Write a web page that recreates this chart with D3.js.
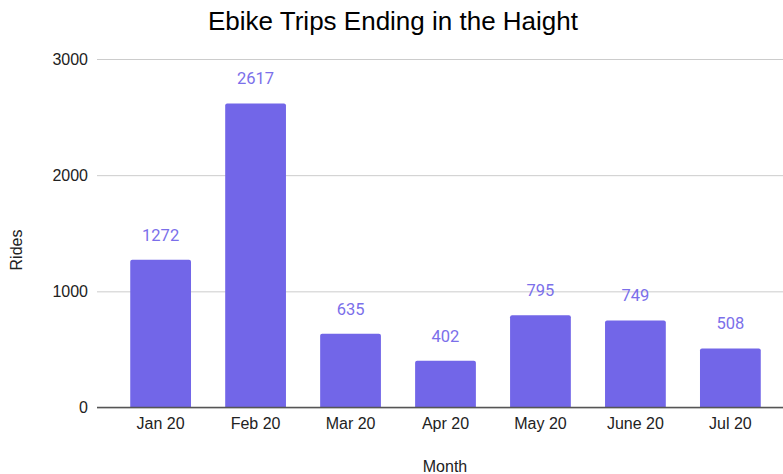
<!DOCTYPE html>
<html>
<head>
<meta charset="utf-8">
<script src="https://cdn.jsdelivr.net/npm/d3@7"></script>
<style>
  body { margin: 0; background: #fff; }
  text { font-family: "Liberation Sans", Arial, sans-serif; }
</style>
</head>
<body>
<div id="chart"></div>
<script>
// data
var months = ["Jan 20", "Feb 20", "Mar 20", "Apr 20", "May 20", "June 20", "Jul 20"];
var rides = [1272, 2617, 635, 402, 795, 749, 508];
var yTicks = [0, 1000, 2000, 3000];

var W = 783, H = 474;
var plotL = 97, plotR = 783, plotT = 59, plotB = 407.5;

var svg = d3.select("#chart").append("svg")
    .attr("width", W)
    .attr("height", H);

var x = d3.scaleBand()
    .domain(months)
    .range([plotL, 794])
    .paddingInner(0.36)
    .paddingOuter(0.35);

var y = d3.scaleLinear()
    .domain([0, 3000])
    .range([plotB, plotT]);

// title
svg.append("text")
    .attr("x", 393)
    .attr("y", 30)
    .attr("text-anchor", "middle")
    .attr("font-size", 26)
    .attr("fill", "#000")
    .text("Ebike Trips Ending in the Haight");

// gridlines + y labels
var yAxis = d3.axisLeft(y)
    .tickValues(yTicks)
    .tickSize(-(plotR - plotL))
    .tickPadding(9)
    .tickFormat(d3.format("d"));

var gy = svg.append("g")
    .attr("transform", "translate(" + plotL + ",0)")
    .call(yAxis);
gy.select(".domain").remove();
gy.selectAll(".tick line")
    .attr("stroke", "#cccccc")
    .attr("stroke-width", 1);
gy.selectAll(".tick text")
    .attr("font-size", 16)
    .attr("fill", "#222")
    .style("font-family", "'Liberation Sans', Arial, sans-serif");

// bars
svg.selectAll("path.bar")
    .data(rides)
    .enter()
    .append("path")
    .attr("class", "bar")
    .attr("fill", "#7266e8")
    .attr("d", function (d, i) {
        var x0 = x(months[i]), w = x.bandwidth();
        var y0 = y(d), r = 2;
        return "M" + x0 + "," + plotB +
            "V" + (y0 + r) +
            "Q" + x0 + "," + y0 + " " + (x0 + r) + "," + y0 +
            "H" + (x0 + w - r) +
            "Q" + (x0 + w) + "," + y0 + " " + (x0 + w) + "," + (y0 + r) +
            "V" + plotB + "Z";
    });

// value labels
svg.selectAll("text.val")
    .data(rides)
    .enter()
    .append("text")
    .attr("class", "val")
    .attr("x", function (d, i) { return x(months[i]) + x.bandwidth() / 2; })
    .attr("y", function (d) { return y(d) - 19; })
    .attr("text-anchor", "middle")
    .attr("font-size", 16.5)
    .attr("fill", "#7b6fea")
    .style("font-family", "Roboto, sans-serif")
    .text(function (d) { return d; });

// x axis
var xAxis = d3.axisBottom(x).tickSize(0).tickPadding(10);
var gx = svg.append("g")
    .attr("transform", "translate(0," + plotB + ")")
    .call(xAxis);
gx.select(".domain")
    .attr("d", "M" + plotL + ",0H" + plotR)
    .attr("stroke", "#555")
    .attr("stroke-width", 1.5);
gx.selectAll(".tick text")
    .attr("font-size", 16)
    .attr("fill", "#222")
    .style("font-family", "'Liberation Sans', Arial, sans-serif");

// axis titles
svg.append("text")
    .attr("transform", "translate(22,250) rotate(-90)")
    .attr("text-anchor", "middle")
    .attr("font-size", 16)
    .attr("fill", "#222")
    .text("Rides");

svg.append("text")
    .attr("x", 445)
    .attr("y", 472)
    .attr("text-anchor", "middle")
    .attr("font-size", 16)
    .attr("fill", "#222")
    .text("Month");
</script>
</body>
</html>
